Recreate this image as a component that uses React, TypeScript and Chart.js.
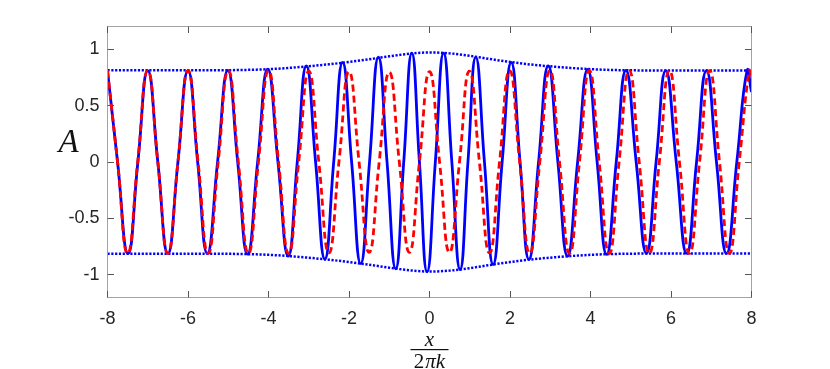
import React, { useEffect, useRef } from "react";
import { Chart, registerables } from "chart.js";
Chart.register(...registerables);

const xTicks = [-8, -6, -4, -2, 0, 2, 4, 6, 8];
const yTicks = [-1, -0.5, 0, 0.5, 1];

// solid blue wave: extrema and zero crossings
const solidX = [
  -8, -7.75, -7.49, -7.245, -7.0, -6.75, -6.5, -6.25, -6.0, -5.76,
  -5.52, -5.265, -5.01, -4.765, -4.52, -4.27, -4.02, -3.765, -3.51, -3.285,
  -3.06, -2.83, -2.6, -2.38, -2.16, -1.935, -1.71, -1.49, -1.27, -1.055,
  -0.84, -0.64, -0.44, -0.25, -0.06, 0.145, 0.35, 0.555, 0.76, 0.955,
  1.15, 1.365, 1.58, 1.805, 2.03, 2.25, 2.47, 2.71, 2.95, 3.19,
  3.43, 3.68, 3.93, 4.165, 4.4, 4.64, 4.88, 5.135, 5.39, 5.63,
  5.87, 6.13, 6.39, 6.635, 6.88, 7.13, 7.38, 7.635, 7.89, 8.0,
];
const solidY = [
  0.81, 0, -0.81, 0, 0.81, 0, -0.81, 0, 0.81, 0,
  -0.81, 0, 0.812, 0, -0.815, 0, 0.822, 0, -0.834, 0,
  0.852, 0, -0.86, 0, 0.882, 0, -0.9, 0, 0.928, 0,
  -0.946, 0, 0.964, 0, -0.972, 0, 0.964, 0, -0.952, 0,
  0.928, 0, -0.908, 0, 0.882, 0, -0.863, 0, 0.852, 0,
  -0.834, 0, 0.82, 0, -0.818, 0, 0.812, 0, -0.81, 0,
  0.81, 0, -0.81, 0, 0.81, 0, -0.81, 0, 0.81, 0.62,
];

// dashed red wave
const dashedX = [
  -8, -7.75, -7.5, -7.25, -7, -6.75, -6.5, -6.25, -6, -5.75,
  -5.5, -5.25, -5, -4.75, -4.5, -4.25, -4, -3.75, -3.5, -3.25,
  -3, -2.75, -2.5, -2.25, -2, -1.75, -1.5, -1.25, -1, -0.75,
  -0.5, -0.25, 0, 0.25, 0.495, 0.745, 0.99, 1.24, 1.49, 1.74,
  1.99, 2.24, 2.49, 2.74, 2.99, 3.23, 3.48, 3.725, 3.97, 4.215,
  4.465, 4.71, 4.96, 5.21, 5.46, 5.71, 5.96, 6.21, 6.46, 6.71,
  6.96, 7.205, 7.45, 7.695, 7.94, 8.0,
];
const dashedY = [
  0.81, 0, -0.81, 0, 0.81, 0, -0.81, 0, 0.81, 0,
  -0.81, 0, 0.81, 0, -0.81, 0, 0.81, 0, -0.81, 0,
  0.805, 0, -0.805, 0, 0.8, 0, -0.8, 0, 0.795, 0,
  -0.8, 0, 0.8, 0, -0.8, 0, 0.805, 0, -0.805, 0,
  0.81, 0, -0.81, 0, 0.81, 0, -0.81, 0, 0.81, 0,
  -0.81, 0, 0.81, 0, -0.81, 0, 0.81, 0, -0.81, 0,
  0.81, 0, -0.81, 0, 0.81, 0.76,
];

// dotted envelope
const envX = [-8, -6, -5, -4.5, -4, -3.5, -3, -2.5, -2, -1.5, -1, -0.5, 0, 0.5, 1, 1.5, 2, 2.5, 3, 3.5, 4, 4.5, 5, 6, 8];
const envUpper = [0.812, 0.812, 0.813, 0.816, 0.822, 0.833, 0.848, 0.865, 0.886, 0.91, 0.936, 0.959, 0.97, 0.962, 0.94, 0.912, 0.886, 0.864, 0.847, 0.833, 0.822, 0.815, 0.812, 0.81, 0.81];
const envLower = [-0.812, -0.812, -0.813, -0.816, -0.822, -0.833, -0.848, -0.865, -0.886, -0.91, -0.936, -0.959, -0.97, -0.962, -0.94, -0.912, -0.886, -0.864, -0.847, -0.833, -0.822, -0.815, -0.812, -0.81, -0.81];

const pts = (xs: number[], ys: number[]) => xs.map((x, i) => ({ x, y: ys[i] }));

export default function App() {
  const ref = useRef<HTMLCanvasElement>(null);
  useEffect(() => {
    const canvas = ref.current!;
    const frame = {
      id: "frame",
      afterDraw(chart: any) {
        const { ctx, chartArea: a, scales } = chart;
        const sx = scales.x, sy = scales.y;
        ctx.save();
        ctx.lineWidth = 1;
        ctx.strokeStyle = "#a3a3a3";
        ctx.strokeRect(a.left, a.top, a.right - a.left, a.bottom - a.top);
        ctx.strokeStyle = "#555555";
        ctx.beginPath();
        const tl = 6.5;
        xTicks.forEach((v) => {
          const p = Math.round(sx.getPixelForValue(v) - 0.5) + 0.5;
          ctx.moveTo(p, a.bottom);
          ctx.lineTo(p, a.bottom - tl);
          ctx.moveTo(p, a.top);
          ctx.lineTo(p, a.top + tl);
        });
        yTicks.forEach((v) => {
          const p = Math.round(sy.getPixelForValue(v) - 0.5) + 0.5;
          ctx.moveTo(a.left, p);
          ctx.lineTo(a.left + tl, p);
          ctx.moveTo(a.right, p);
          ctx.lineTo(a.right - tl, p);
        });
        ctx.stroke();

        // y label
        ctx.fillStyle = "#111";
        ctx.textAlign = "center";
        ctx.textBaseline = "middle";
        ctx.font = "italic 33px 'Liberation Serif'";
        ctx.fillText("A", a.left - 39, a.top + 117);

        // x label as fraction
        const cx = (a.left + a.right) / 2;
        ctx.font = "italic 21px 'Liberation Serif'";
        ctx.fillText("x", cx, a.bottom + 43);
        ctx.fillRect(cx - 19, a.bottom + 51.5, 38, 1.2);
        ctx.font = "21px 'Liberation Serif'";
        const w2 = ctx.measureText("2").width;
        ctx.font = "italic 21px 'Liberation Serif'";
        const wpk = ctx.measureText("πk").width;
        const start = cx - (w2 + wpk + 1) / 2;
        ctx.textAlign = "left";
        ctx.font = "21px 'Liberation Serif'";
        ctx.fillText("2", start, a.bottom + 65);
        ctx.font = "italic 21px 'Liberation Serif'";
        ctx.fillText("πk", start + w2 + 1, a.bottom + 65);
        ctx.restore();
      },
    };

    const chart = new Chart(canvas, {
      type: "line",
      data: {
        datasets: [
          {
            data: pts(dashedX, dashedY),
            borderColor: "#ff0000",
            borderWidth: 2.8,
            borderDash: [7, 4],
            pointRadius: 0,
            tension: 0.5,
            fill: false,
            order: 0,
          },
          {
            data: pts(solidX, solidY),
            borderColor: "#0000ff",
            borderWidth: 2.8,
            pointRadius: 0,
            tension: 0.5,
            fill: false,
            order: 1,
          },
          {
            data: pts(envX, envUpper),
            borderColor: "#0000ff",
            borderWidth: 2.5,
            borderDash: [2.2, 1.6],
            pointRadius: 0,
            cubicInterpolationMode: "monotone",
            fill: false,
            order: 2,
          },
          {
            data: pts(envX, envLower),
            borderColor: "#0000ff",
            borderWidth: 2.5,
            borderDash: [2.2, 1.6],
            pointRadius: 0,
            cubicInterpolationMode: "monotone",
            fill: false,
            order: 2,
          },
        ],
      },
      options: {
        responsive: false,
        animation: false,
        devicePixelRatio: 1,
        layout: { padding: { top: 26.5, right: 78.5, left: 0, bottom: 0 } },
        plugins: { legend: { display: false }, tooltip: { enabled: false } },
        scales: {
          x: {
            type: "linear",
            min: -8,
            max: 8,
            grid: { display: false, drawTicks: false },
            border: { display: false },
            afterFit: (s: any) => { s.height = 71.5; },
            afterBuildTicks: (s: any) => { s.ticks = xTicks.map((v) => ({ value: v })); },
            ticks: {
              padding: 11,
              color: "#262626",
              font: { family: "'Liberation Sans', Arial, sans-serif", size: 18 },
              callback: (v: any) => String(v),
              maxRotation: 0,
            },
          },
          y: {
            type: "linear",
            min: -1.2,
            max: 1.2,
            grid: { display: false, drawTicks: false },
            border: { display: false },
            afterFit: (s: any) => { s.width = 107.5; },
            afterBuildTicks: (s: any) => { s.ticks = yTicks.map((v) => ({ value: v })); },
            ticks: {
              padding: 8,
              color: "#262626",
              font: { family: "'Liberation Sans', Arial, sans-serif", size: 18 },
              callback: (v: any) => String(v),
            },
          },
        },
      },
      plugins: [frame],
    } as any);
    return () => chart.destroy();
  }, []);
  return (
    <div style={{ position: "fixed", left: 0, top: 0, width: 830, height: 369, background: "#fff" }}>
      <canvas ref={ref} width={830} height={369} />
    </div>
  );
}
